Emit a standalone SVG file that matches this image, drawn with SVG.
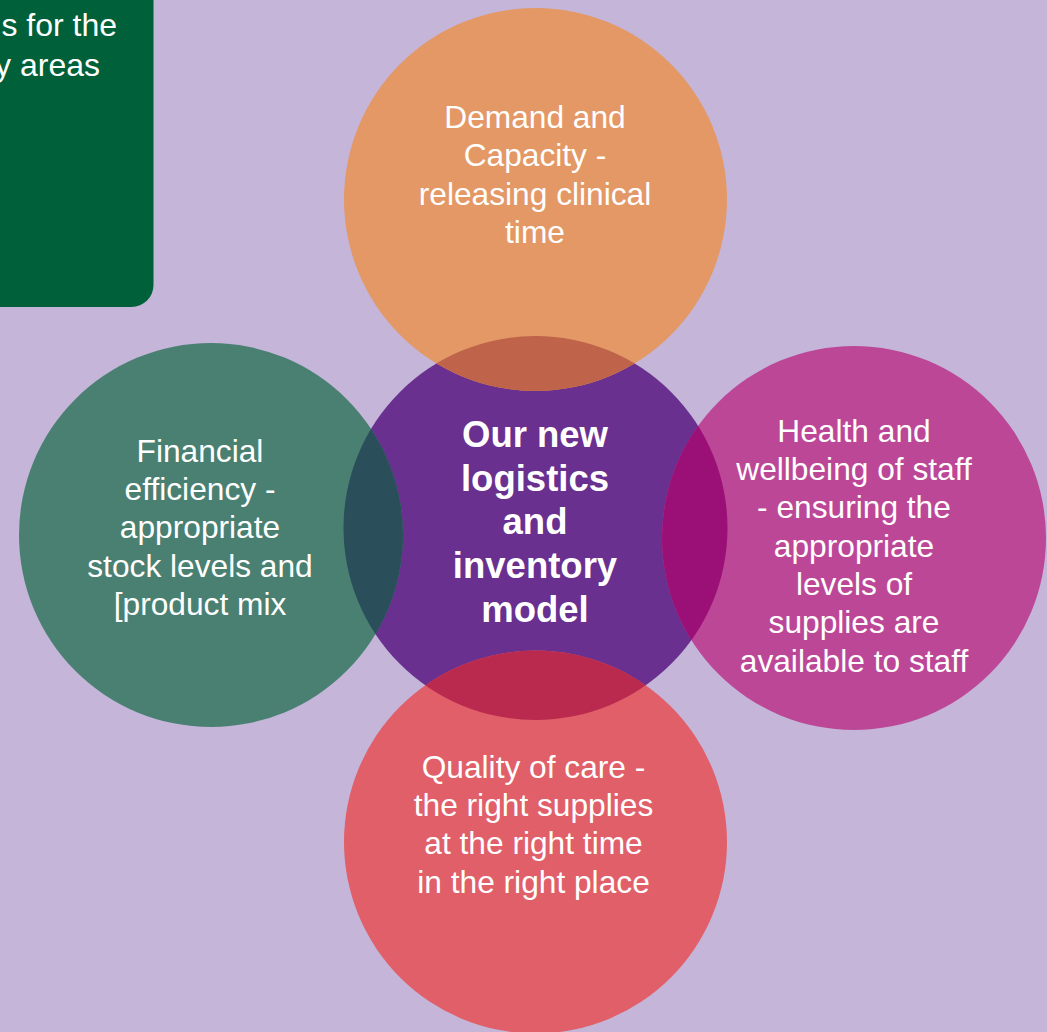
<svg xmlns="http://www.w3.org/2000/svg" width="1047" height="1032" viewBox="0 0 1047 1032">
  <style>
    .t { font-family: "Liberation Sans", Arial, sans-serif; font-size: 31.7px; fill: #ffffff; text-anchor: middle; }
    .b { font-family: "Liberation Sans", Arial, sans-serif; font-size: 36.5px; font-weight: bold; fill: #ffffff; text-anchor: middle; }
    .g { font-family: "Liberation Sans", Arial, sans-serif; font-size: 32px; fill: #ffffff; text-anchor: end; }
  </style>
  <defs>
    <clipPath id="centerClip">
      <circle cx="535.5" cy="528" r="192"/>
    </clipPath>
  </defs>
  <rect x="0" y="0" width="1047" height="1032" fill="#C4B5D9"/>

  <g id="intro-box">
    <rect x="-40" y="-40" width="193.5" height="347" rx="22" ry="22" fill="#006039"/>
    <text class="g" x="117" y="36">s for the</text>
    <text class="g" x="100" y="76">y areas</text>
  </g>

  <g id="center-node">
    <circle cx="535.5" cy="528" r="192" fill="#69308F"/>
  </g>

  <g id="demand-capacity">
    <circle cx="535.5" cy="199.5" r="191.5" fill="#E39865"/>
    <circle cx="535.5" cy="199.5" r="191.5" fill="#BF644A" clip-path="url(#centerClip)"/>
    <text class="t" x="535" y="128">Demand and</text>
    <text class="t" x="535" y="166.3">Capacity -</text>
    <text class="t" x="535" y="204.6">releasing clinical</text>
    <text class="t" x="535" y="243">time</text>
  </g>

  <g id="financial-efficiency">
    <circle cx="211" cy="535" r="192" fill="#4A8072"/>
    <circle cx="211" cy="535" r="192" fill="#2A4E5A" clip-path="url(#centerClip)"/>
    <text class="t" x="200" y="461.7">Financial</text>
    <text class="t" x="200" y="500">efficiency -</text>
    <text class="t" x="200" y="538.3">appropriate</text>
    <text class="t" x="200" y="576.6">stock levels and</text>
    <text class="t" x="200" y="615">[product mix</text>
  </g>

  <g id="health-wellbeing">
    <circle cx="854" cy="538" r="192" fill="#BC4797"/>
    <circle cx="854" cy="538" r="192" fill="#9A1077" clip-path="url(#centerClip)"/>
    <text class="t" x="854" y="441.7">Health and</text>
    <text class="t" x="854" y="480">wellbeing of staff</text>
    <text class="t" x="854" y="518.3">- ensuring the</text>
    <text class="t" x="854" y="556.6">appropriate</text>
    <text class="t" x="854" y="595">levels of</text>
    <text class="t" x="854" y="633.3">supplies are</text>
    <text class="t" x="854" y="671.6">available to staff</text>
  </g>

  <g id="quality-of-care">
    <circle cx="535.5" cy="842" r="191.5" fill="#E05F69"/>
    <circle cx="535.5" cy="842" r="191.5" fill="#BA2A4E" clip-path="url(#centerClip)"/>
    <text class="t" x="533.5" y="777.7">Quality of care -</text>
    <text class="t" x="533.5" y="816">the right supplies</text>
    <text class="t" x="533.5" y="854.3">at the right time</text>
    <text class="t" x="533.5" y="892.6">in the right place</text>
  </g>

  <g id="center-label">
    <text class="b" x="535" y="446.7">Our new</text>
    <text class="b" x="535" y="490.5">logistics</text>
    <text class="b" x="535" y="534">and</text>
    <text class="b" x="535" y="578">inventory</text>
    <text class="b" x="535" y="621.7">model</text>
  </g>

  <g id="connectors"/>
</svg>
